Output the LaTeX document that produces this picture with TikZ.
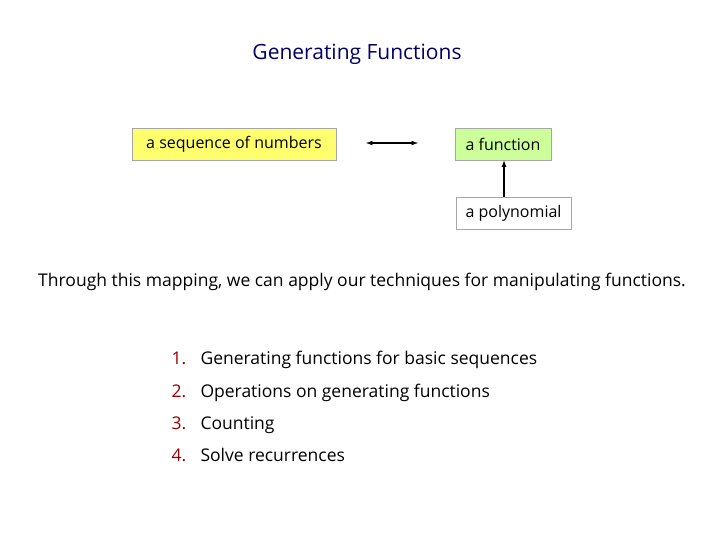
\documentclass[tikz,border=0pt]{standalone}
\usepackage{fontspec}
\setmainfont{Open Sans}
\definecolor{ylw}{RGB}{255,255,110}
\definecolor{grn}{RGB}{204,255,153}
\begin{document}
\begin{tikzpicture}[x=1pt,y=-1pt,
  box/.style={draw=gray!70,line width=0.8pt,minimum height=32pt,inner xsep=3pt,font=\fontsize{16}{18}\selectfont},
  txt/.style={font=\fontsize{17.5}{20}\selectfont,anchor=base west},
  num/.style={font=\fontsize{17.5}{20}\selectfont,text=red!60!black,anchor=base west},
  arr/.style={-latex,line width=1.2pt}]
\useasboundingbox (0,0) rectangle (720,540);
\node[font=\fontsize{21}{24}\selectfont,text=blue!40!black] (title) at (357,54) {Generating Functions};
\node[box,fill=ylw,minimum width=204pt] (seq) at (234,144) {a sequence of numbers};
\node[box,fill=grn,minimum width=96pt] (fun) at (503,144) {a function};
\node[box,fill=white,minimum width=115pt] (poly) at (513.5,213) {a polynomial};
\coordinate (al) at (366,143);
\coordinate (ar) at (418,143);
\draw[arr,latex-latex] (al) -- (ar);
\coordinate (pt) at (504,197);
\draw[arr] (pt) -- (fun.south -| pt);
\node[font=\fontsize{17.5}{20}\selectfont] (thr) at (362,282) {Through this mapping, we can apply our techniques for manipulating functions.};
\foreach \n/\y/\t in {1/358/Generating functions for basic sequences,2/391/Operations on generating functions,3/423/Counting,4/455/Solve recurrences}{
  \node[num] (n\n) at (168,\y+6) {\n.};
  \node[txt] (t\n) at (197,\y+6) {\t};
}
\end{tikzpicture}
\end{document}
